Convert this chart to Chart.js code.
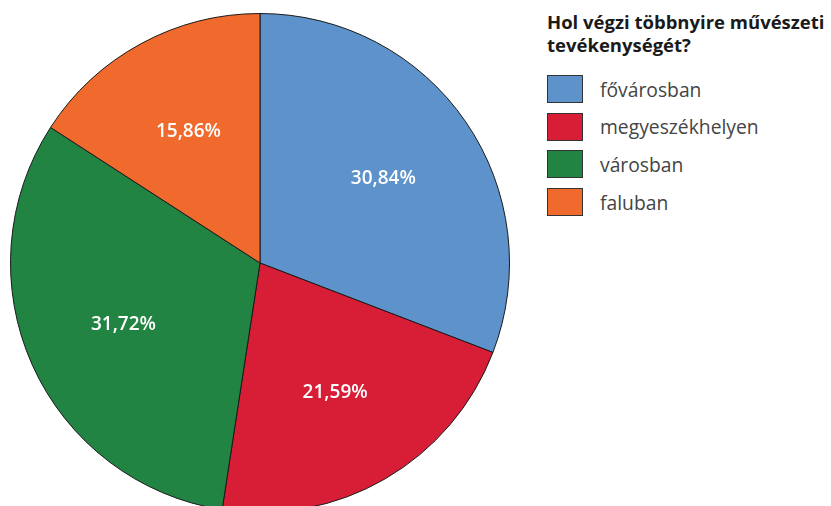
<!DOCTYPE html>
<html>
<head>
<meta charset="utf-8">
<script src="https://cdn.jsdelivr.net/npm/chart.js@4/dist/chart.umd.min.js"></script>
<style>
    html, body { margin: 0; padding: 0; background: #fff; width: 831px; height: 506px; overflow: hidden; }
    #pieBox { position: absolute; left: 10px; top: 13px; width: 500px; height: 500px; }
    #legend { position: absolute; left: 547px; top: 10px; font-family: "Open Sans", sans-serif; }
    #legend h3 { margin: 0 0 19px 0; font-size: 18.5px; line-height: 23px; font-weight: 700; color: #1a1a1a; white-space: nowrap; }
    .item { display: flex; align-items: center; height: 28px; margin-bottom: 9.7px; }
    .box { width: 34px; height: 26px; border: 1.5px solid #333; margin-right: 17px; }
    .item span { font-size: 19.3px; color: #444; font-weight: 400; }
</style>
</head>
<body>
<div id="pieBox"><canvas id="pie" width="500" height="500"></canvas></div>
<div id="legend"></div>
<script>
    // adatok
    const categories = ["fővárosban", "megyeszékhelyen", "városban", "faluban"];
    const percents = [30.84, 21.59, 31.72, 15.86];
    const colors = ["#5e92cb", "#d81e36", "#228442", "#f0692d"];
    const title = "Hol végzi többnyire művészeti tevékenységét?";

    function fmt(v) {
        return v.toFixed(2).replace(".", ",") + "%";
    }

    //Feliratok a szeletekre
    const sliceLabels = {
        id: "sliceLabels",
        afterDatasetsDraw(chart) {
            let ctx = chart.ctx;
            let meta = chart.getDatasetMeta(0);
            ctx.save();
            ctx.fillStyle = "#fff";
            ctx.font = "600 19px 'Open Sans', sans-serif";
            ctx.textAlign = "center";
            ctx.textBaseline = "middle";
            meta.data.forEach((arc, i) => {
                let p = arc.getProps(["x", "y", "startAngle", "endAngle", "outerRadius"]);
                let mid = (p.startAngle + p.endAngle) / 2;
                let r = p.outerRadius * 0.6;
                ctx.fillText(fmt(percents[i]), p.x + Math.cos(mid) * r, p.y + Math.sin(mid) * r);
            });
            ctx.restore();
        }
    };

    new Chart(document.getElementById("pie"), {
        type: "pie",
        data: {
            labels: categories,
            datasets: [{
                data: percents,
                backgroundColor: colors,
                borderColor: "#1a1a1a",
                borderWidth: 1
            }]
        },
        options: {
            responsive: false,
            animation: false,
            layout: { padding: 0 },
            plugins: {
                legend: { display: false },
                tooltip: { enabled: false }
            }
        },
        plugins: [sliceLabels]
    });

    //Jelmagyarázat
    let html = "<h3>" + title.replace("művészeti ", "művészeti<br>") + "</h3>";
    categories.forEach((c, i) => {
        html += `<div class="item"><div class="box" style="background:${colors[i]}"></div><span>${c}</span></div>`;
    });
    document.getElementById("legend").innerHTML = html;
</script>
</body>
</html>
